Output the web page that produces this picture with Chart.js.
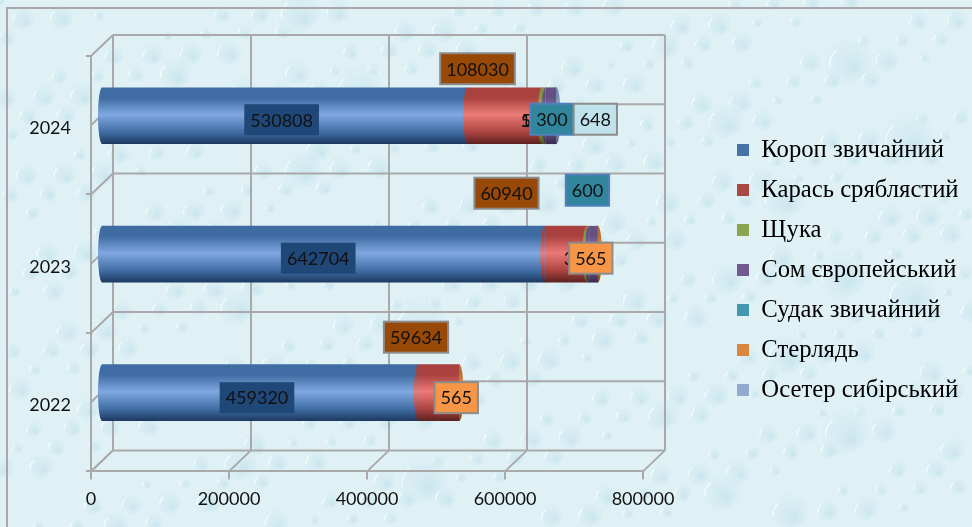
<!DOCTYPE html>
<html lang="uk">
<head>
<meta charset="UTF-8">
<title>Вилов риби</title>
<style>
  html, body { margin: 0; padding: 0; background: #fff; }
  #wrap { position: relative; width: 972px; height: 527px; }
  #frame { position: absolute; left: 6px; top: 7px; right: -4px; bottom: -4px; border: 2px solid #a8a8a8; pointer-events: none; }
</style>
</head>
<body>
<div id="wrap">
  <canvas id="chart" width="972" height="527"></canvas>
  <div id="frame"></div>
</div>
<script src="https://cdn.jsdelivr.net/npm/chart.js@4"></script>
<script>
const years = ['2024', '2023', '2022'];
const seriesNames = ['Короп звичайний', 'Карась сряблястий', 'Щука', 'Сом європейський', 'Судак звичайний', 'Стерлядь', 'Осетер сибірський'];

const koropValues = [530808, 642704, 459320];
const karasValues = [108030, 60940, 59634];
const shchukaValues = [5400, 3500, null];
const somValues = [15000, 12000, null];
const sudakValues = [300, 600, null];
const sterliadValues = [null, 565, 565];
const osetrValues = [648, null, null];

const xTicks = [0, 200000, 400000, 600000, 800000];

// legend colour, then cylinder shades: top, middle, bottom
const legendColors = ['#4572a7', '#aa4643', '#89a54e', '#71588f', '#4198af', '#db843d', '#93a9cf'];
const shadeTop = ['#3f6ca3', '#a9423f', '#7f9a45', '#654f83', '#3a8ba1', '#b9702f', '#7f90ad'];
const shadeMid = ['#7fa8e0', '#ec7a76', '#b9d672', '#a78ccb', '#6cc4dd', '#f7a45c', '#b5c5e3'];
const shadeBot = ['#1c3a60', '#5c2220', '#4a5c24', '#3a2b50', '#1e5564', '#7d4714', '#55627c'];

// 3D look of the Excel original
const depthX = 22, depthY = 21;   // back wall offset from the front plane
const barShiftX = 10, barShiftY = -9.5;
const capRx = 4;
const minCapValue = 1000;         // thinner segments are under a pixel, no curved edge

// data labels: series, year, dx, dy from the segment centre, box fill, box border
const dataLabels = [
  [0, 0, -3, 4, '#1f4778', null],
  [1, 0, -27, -47, '#984807', '#8c8c8c'],
  [2, 0, -2, 4, null, null],
  [3, 0, -4, 4, null, null],
  [4, 0, -4, 3.5, '#31859c', '#4f81bd'],
  [6, 0, 39, 3.5, '#bfe2ec', '#8c8c8c'],
  [0, 1, -5, 4, '#1f4778', null],
  [1, 1, -59, -61, '#984807', '#8c8c8c'],
  [2, 1, -3, 4, null, null],
  [4, 1, -10, -64, '#31859c', '#4f81bd'],
  [5, 1, -7, 4, '#f79646', '#8c8c8c'],
  [0, 2, -3, 5, '#1f4778', null],
  [1, 2, -22.5, -55.5, '#984807', '#8c8c8c'],
  [5, 2, -3, 5, '#f79646', '#8c8c8c']
];

const allValues = [koropValues, karasValues, shchukaValues, somValues, sudakValues, sterliadValues, osetrValues];

function cylinderGradient(ctx, y, h, i) {
  const g = ctx.createLinearGradient(0, y - h / 2, 0, y + h / 2);
  g.addColorStop(0, shadeTop[i]);
  g.addColorStop(0.18, shadeTop[i]);
  g.addColorStop(0.48, shadeMid[i]);
  g.addColorStop(0.8, shadeTop[i]);
  g.addColorStop(1, shadeBot[i]);
  return g;
}

function halfEllipse(ctx, x, y, ry, left, fill) {
  ctx.beginPath();
  ctx.ellipse(x, y, capRx, ry, 0, Math.PI / 2, Math.PI * 3 / 2, !left);
  ctx.closePath();
  ctx.fillStyle = fill;
  ctx.fill();
}

// background: pale blue with water drops
const waterBackground = {
  id: 'waterBackground',
  beforeDraw(chart) {
    const ctx = chart.ctx, W = chart.width, H = chart.height;
    ctx.save();
    ctx.fillStyle = '#dff1f5';
    ctx.fillRect(0, 0, W, H);
    for (let n = 0; n < 420; n++) {
      const x = (n * 0.618034 % 1) * W;
      const y = (n * 0.754878 % 1) * H;
      const r = 6 + (n * 0.569840 % 1) * (n % 9 === 0 ? 26 : 10);
      const g = ctx.createRadialGradient(x + r * 0.25, y + r * 0.3, r * 0.1, x, y, r);
      g.addColorStop(0, 'rgba(190,222,233,0.55)');
      g.addColorStop(0.8, 'rgba(212,236,242,0.25)');
      g.addColorStop(1, 'rgba(236,249,252,0.35)');
      ctx.fillStyle = g;
      ctx.beginPath();
      ctx.ellipse(x, y, r, r * 0.8, -0.5, 0, Math.PI * 2);
      ctx.fill();
      ctx.strokeStyle = 'rgba(246,253,255,0.8)';
      ctx.lineWidth = 1.5;
      ctx.beginPath();
      ctx.ellipse(x, y, r * 0.72, r * 0.55, -0.5, Math.PI * 1.05, Math.PI * 1.4);
      ctx.stroke();
    }
    ctx.restore();
  }
};

// back wall, floor and left side wall
const walls = {
  id: 'walls',
  beforeDatasetsDraw(chart) {
    const ctx = chart.ctx, a = chart.chartArea, xs = chart.scales.x;
    const slot = (a.bottom - a.top) / years.length;
    ctx.save();
    ctx.strokeStyle = '#a9a9a9';
    ctx.lineWidth = 2;
    const line = (x1, y1, x2, y2) => { ctx.beginPath(); ctx.moveTo(x1, y1); ctx.lineTo(x2, y2); ctx.stroke(); };
    xTicks.forEach(t => {
      const x = xs.getPixelForValue(t);
      line(x + depthX, a.top - depthY, x + depthX, a.bottom - depthY);
      line(x, a.bottom, x + depthX, a.bottom - depthY);
    });
    for (let k = 0; k <= years.length * 2; k++) {
      const y = a.top + k * slot / 2;
      line(a.left + depthX, y - depthY, a.right + depthX, y - depthY);
      line(a.left, y, a.left + depthX, y - depthY);
    }
    ctx.restore();
    ctx.save();
    ctx.translate(barShiftX, barShiftY);
  },
  afterDatasetsDraw(chart) {
    const ctx = chart.ctx;
    // curved segment edges, done here because Chart.js paints the first series last
    allValues.forEach((values, i) => {
      chart.getDatasetMeta(i).data.forEach((el, row) => {
        if (values[row] == null) return;
        const h = el.height;
        const fill = cylinderGradient(ctx, el.y, h, i);
        if (values[row] >= minCapValue) halfEllipse(ctx, el.base, el.y, h / 2, true, fill);
        const later = allValues.slice(i + 1).some(v => v[row] != null);
        if (!later) halfEllipse(ctx, el.x, el.y, h / 2, false, fill);
      });
    });
    ctx.restore();
    ctx.save();
    ctx.font = '18px Lato';
    ctx.textAlign = 'center';
    ctx.textBaseline = 'middle';
    dataLabels.forEach(([s, row, dx, dy, fill, border]) => {
      const el = chart.getDatasetMeta(s).data[row];
      const text = String(allValues[s][row]);
      const cx = (el.x + el.base) / 2 + barShiftX + dx;
      const cy = el.y + barShiftY + dy;
      if (fill) {
        const w = ctx.measureText(text).width + 12;
        const h = 31;
        ctx.fillStyle = fill;
        ctx.fillRect(cx - w / 2, cy - h / 2, w, h);
        if (border) {
          ctx.strokeStyle = border;
          ctx.lineWidth = 2;
          ctx.strokeRect(cx - w / 2, cy - h / 2, w, h);
        }
      }
      ctx.fillStyle = '#111';
      ctx.fillText(text, cx, cy + 1);
    });
    ctx.restore();
  },
  afterLayout(chart) {
    // legend sits in its own column right of the plot, clear of the walls
    const lg = chart.legend;
    const shift = 721.7 - lg.left;
    lg.left += shift; lg.right += shift;
    const dy = 122.4 - lg.top;
    lg.top += dy; lg.bottom += dy;
  }
};

new Chart(document.getElementById('chart'), {
  type: 'bar',
  data: {
    labels: years,
    datasets: seriesNames.map((name, i) => ({
      label: name,
      data: allValues[i],
      barThickness: 56,
      clip: false,
      backgroundColor(c) {
        const y = c.chart.scales.y.getPixelForValue(c.dataIndex);
        if (!Number.isFinite(y)) return legendColors[i];
        return cylinderGradient(c.chart.ctx, y, 56, i);
      }
    }))
  },
  plugins: [waterBackground, walls],
  options: {
    indexAxis: 'y',
    responsive: false,
    animation: false,
    layout: { padding: { left: 0, top: 56, right: 329, bottom: 8 } },
    scales: {
      x: {
        stacked: true,
        min: 0,
        max: 800000,
        afterBuildTicks(axis) { axis.ticks = xTicks.map(v => ({ value: v })); },
        border: { color: '#a9a9a9', width: 2 },
        grid: { drawOnChartArea: false, tickLength: 8, color: '#a9a9a9', lineWidth: 2 },
        ticks: {
          color: '#111',
          font: { family: 'Lato', size: 18 },
          padding: 9,
          maxRotation: 0,
          autoSkip: false,
          callback: v => String(v)
        }
      },
      y: {
        stacked: true,
        afterFit(axis) { axis.width = 91; },
        border: { color: '#a9a9a9', width: 2 },
        grid: { drawOnChartArea: false, tickLength: 5, color: '#a9a9a9', lineWidth: 2 },
        ticks: { color: '#111', font: { family: 'Lato', size: 18 }, padding: 15, labelOffset: 3 }
      }
    },
    plugins: {
      tooltip: { enabled: false },
      legend: {
        position: 'chartArea',
        align: 'start',
        labels: {
          color: '#000',
          boxWidth: 12,
          boxHeight: 12,
          padding: 15.3,
          font: { family: 'Liberation Serif', size: 24.7 },
          generateLabels(chart) {
            return Chart.defaults.plugins.legend.labels.generateLabels(chart).map((item, i) => ({
              ...item, fillStyle: legendColors[i], strokeStyle: legendColors[i], lineWidth: 0
            }));
          }
        }
      }
    }
  }
});
</script>
</body>
</html>
